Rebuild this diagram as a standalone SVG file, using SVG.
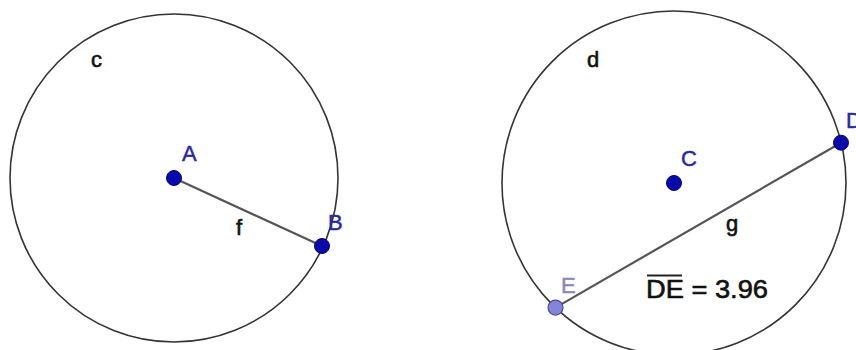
<svg xmlns="http://www.w3.org/2000/svg" width="856" height="350" viewBox="0 0 856 350">
<style>
.circ{fill:none;stroke:#333;stroke-width:1.6}
.seg{stroke:#555;stroke-width:2.2}
.pt{fill:#0a0aa8;stroke:#00007a;stroke-width:1}
.lbl{font-family:"Liberation Sans",Arial,sans-serif;font-size:22px;fill:#111;stroke:#111;stroke-width:0.6}
.plbl{font-family:"Liberation Sans",Arial,sans-serif;font-size:22px;fill:#2a2a9a;stroke:#2a2a9a;stroke-width:0.5}
</style>
<rect width="856" height="350" fill="#fff"/>
<g id="connectors">
<line class="seg" x1="174" y1="178" x2="322" y2="246"/>
<line class="seg" x1="555.5" y1="307.6" x2="841" y2="142.7"/>
</g>
<g id="circle-c">
<circle class="circ" cx="174" cy="178" r="164"/>
<text class="lbl" x="91" y="67">c</text>
</g>
<g id="circle-d">
<circle class="circ" cx="674" cy="183" r="172"/>
<text class="lbl" x="587" y="67">d</text>
</g>
<g id="label-f"><text class="lbl" x="236" y="235">f</text></g>
<g id="label-g"><text class="lbl" x="726" y="231">g</text></g>
<g id="point-A">
<circle class="pt" cx="174" cy="178" r="7.5"/>
<text class="plbl" x="182" y="161">A</text>
</g>
<g id="point-B">
<circle class="pt" cx="322" cy="246" r="7.5"/>
<text class="plbl" x="328" y="230">B</text>
</g>
<g id="point-C">
<circle class="pt" cx="674" cy="183" r="7.5"/>
<text class="plbl" x="681" y="166">C</text>
</g>
<g id="point-D">
<circle class="pt" cx="841" cy="142.7" r="7.5"/>
<text class="plbl" x="846" y="128">D</text>
</g>
<g id="point-E">
<circle cx="555.5" cy="307.6" r="7.5" fill="#8585d8" stroke="#4a4aa0" stroke-width="1.2"/>
<text class="plbl" x="561" y="293" style="fill:#8a8ab8;stroke:#8a8ab8">E</text>
</g>
<g id="measure">
<line x1="647" y1="275.5" x2="682" y2="275.5" stroke="#222" stroke-width="1.8"/>
<text class="lbl" x="646" y="298" style="font-size:25px" textLength="122" lengthAdjust="spacingAndGlyphs">DE = 3.96</text>
</g>
</svg>
